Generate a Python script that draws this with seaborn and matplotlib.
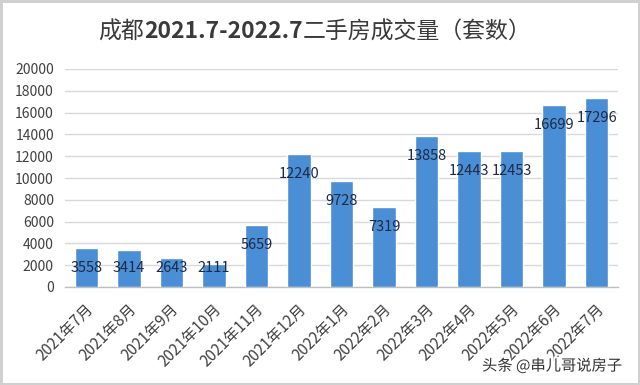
import numpy as np
import pandas as pd
import matplotlib
matplotlib.use("Agg")
import matplotlib.pyplot as plt
import matplotlib.patheffects as pe
from matplotlib.transforms import ScaledTranslation
import seaborn as sns

months = ["2021年7月", "2021年8月", "2021年9月", "2021年10月", "2021年11月", "2021年12月",
          "2022年1月", "2022年2月", "2022年3月", "2022年4月", "2022年5月", "2022年6月", "2022年7月"]
volumes = [3558, 3414, 2643, 2111, 5659, 12240, 9728, 7319, 13858, 12443, 12453, 16699, 17296]
yticks = [0, 2000, 4000, 6000, 8000, 10000, 12000, 14000, 16000, 18000, 20000]
title_parts = ["成都", "2021.7-2022.7", "二手房成交量（套数）"]
watermark = "头条 @串儿哥说房子"

sns.set_theme(style="white")
plt.rcParams['font.family'] = ['Noto Sans CJK SC', 'DejaVu Sans']

df = pd.DataFrame({"month": months, "volume": volumes})

fig = plt.figure(figsize=(6.4, 3.85), dpi=100)
fig.patch.set_facecolor("white")
fig.patch.set_edgecolor("#d0d0d0")
fig.patch.set_linewidth(2.5)
ax = fig.add_axes([65/640, 1-287/385, (618-65)/640, (287-69)/385])

sns.barplot(data=df, x="month", y="volume", color="#4a8ed6", saturation=1,
            width=0.55, ax=ax, zorder=3)

ax.set_ylim(0, 20000)
ax.set_xlim(-0.5, len(months)-0.5)
ax.set_yticks(yticks)
ax.set_yticklabels([str(v) for v in yticks], fontsize=10, color="#404040")
ax.yaxis.grid(True, color="#d9d9d9", linewidth=1, zorder=0)
ax.set_axisbelow(True)
ax.tick_params(axis="y", length=0, pad=8)
ax.set_xlabel("")
ax.set_ylabel("")
for s in ["top", "right", "left"]:
    ax.spines[s].set_visible(False)
ax.spines["bottom"].set_color("#bfbfbf")
ax.spines["bottom"].set_linewidth(1)

ax.set_xticks(np.arange(len(months)))
ax.set_xticks(np.arange(-0.5, len(months), 1), minor=True)
ax.tick_params(axis="x", which="major", length=0, pad=0)
ax.tick_params(axis="x", which="minor", length=4, color="#bfbfbf", width=1, direction="out")
ax.set_xticklabels(months, rotation=45, ha="right", va="center", rotation_mode="anchor",
                   fontsize=11, color="#404040")
off = ScaledTranslation(5/100, -20/100, fig.dpi_scale_trans)
for lab in ax.get_xticklabels():
    lab.set_transform(lab.get_transform() + off)

for i, v in enumerate(volumes):
    ax.annotate(str(v), xy=(i, max(v, 3560)), xytext=(0, -14.4), textcoords="offset points",
                ha="center", va="center", fontsize=10.5, color="#1e2a44", zorder=5)

# title in three parts (middle bold)
t1 = fig.text(98/640, 1-32/385, title_parts[0], fontsize=16.5, color="#3a3a3a", ha="left", va="center")
t2 = ax.annotate(title_parts[1], xy=(1, 0), xycoords=t1, ha="left", va="bottom",
                 fontsize=16.5, color="#3a3a3a", fontweight="bold", annotation_clip=False)
t3 = ax.annotate(title_parts[2], xy=(1, 0), xycoords=t2, ha="left", va="bottom",
                 fontsize=16.5, color="#3a3a3a", annotation_clip=False)

fig.text(482/640, 1-366/385, watermark, fontsize=11, color="#333333", ha="left", va="center",
         path_effects=[pe.withStroke(linewidth=3, foreground="white")])

fig.savefig("out.png", dpi=100)
